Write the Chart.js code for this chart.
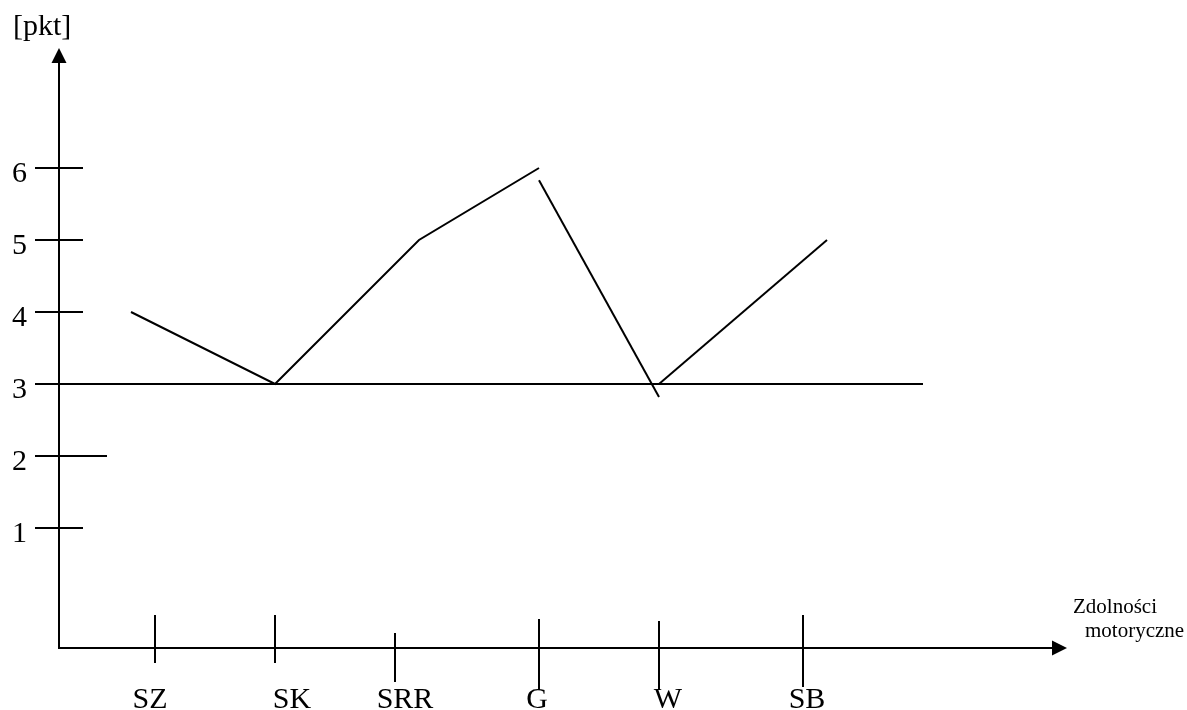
<!DOCTYPE html>
<html>
<head>
<meta charset="utf-8">
<script src="https://cdn.jsdelivr.net/npm/chart.js@4/dist/chart.umd.min.js"></script>
<style>
  html, body { margin: 0; padding: 0; background: #fff; }
  canvas { display: block; }
</style>
</head>
<body>
<canvas id="c" width="1187" height="710"></canvas>
<script>
// ---- data ----
const categories = ['SZ', 'SK', 'SRR', 'G', 'W', 'SB'];
const categoryPositions = [1, 2, 3, 4.2, 5.2, 6.4];
const yTickLabels = ['1', '2', '3', '4', '5', '6'];
const yTickValues = [1, 2, 3, 4, 5, 6];
const yAxisTitle = '[pkt]';
const xAxisTitle = ['Zdolności', 'motoryczne'];

const profileX = [0.8, 2, 3.2, 4.2];
const profileY = [4, 3, 5, 6];
const dropX = [4.2, 5.2];
const dropY = [5.83, 2.82];
const riseX = [5.2, 6.6];
const riseY = [3, 5];
const referenceX = [0, 7.4];
const referenceY = [3, 3];

const pts = (xs, ys) => xs.map((x, i) => ({ x: x, y: ys[i] }));
const SERIF = '"Liberation Serif", "DejaVu Serif", serif';

const lineDs = (xs, ys) => ({
  data: pts(xs, ys),
  borderColor: '#000',
  borderWidth: 2,
  pointRadius: 0,
  tension: 0,
  fill: false,
  clip: false
});

const axesPlugin = {
  id: 'handAxes',
  afterDraw(chart) {
    const ctx = chart.ctx;
    const xs = chart.scales.x, ys = chart.scales.y;
    const area = chart.chartArea;
    const axisX = xs.getPixelForValue(0.2);
    const axisY = area.bottom;
    ctx.save();
    ctx.strokeStyle = '#000';
    ctx.fillStyle = '#000';
    ctx.lineWidth = 2;
    ctx.lineCap = 'butt';

    // y axis
    ctx.beginPath();
    ctx.moveTo(axisX, axisY);
    ctx.lineTo(axisX, area.top + 14);
    ctx.stroke();
    ctx.beginPath();
    ctx.moveTo(axisX, area.top);
    ctx.lineTo(axisX - 7.5, area.top + 15);
    ctx.lineTo(axisX + 7.5, area.top + 15);
    ctx.closePath();
    ctx.fill();

    // x axis
    ctx.beginPath();
    ctx.moveTo(axisX - 1, axisY);
    ctx.lineTo(area.right - 14, axisY);
    ctx.stroke();
    ctx.beginPath();
    ctx.moveTo(area.right, axisY);
    ctx.lineTo(area.right - 15, axisY - 7.5);
    ctx.lineTo(area.right - 15, axisY + 7.5);
    ctx.closePath();
    ctx.fill();

    // y ticks + labels
    const yTickEnd = [0.4, 0.6, 0.4, 0.4, 0.4, 0.4];
    ctx.font = '30px ' + SERIF;
    ctx.textAlign = 'right';
    ctx.textBaseline = 'alphabetic';
    yTickValues.forEach((v, i) => {
      const py = ys.getPixelForValue(v);
      ctx.beginPath();
      ctx.moveTo(xs.getPixelForValue(0), py);
      ctx.lineTo(xs.getPixelForValue(yTickEnd[i]), py);
      ctx.stroke();
      ctx.fillText(yTickLabels[i], 27, py + 14);
    });

    // x ticks + labels (hand-drawn extents above/below axis, label offsets)
    const tickUp = [33, 33, 15, 29, 27, 33];
    const tickDown = [15, 15, 34, 42, 42, 39];
    const labelShift = [-5, 17, 10, -2, 9, 4];
    ctx.textAlign = 'center';
    categories.forEach((c, i) => {
      const px = xs.getPixelForValue(categoryPositions[i]);
      ctx.beginPath();
      ctx.moveTo(px, axisY - tickUp[i]);
      ctx.lineTo(px, axisY + tickDown[i]);
      ctx.stroke();
      ctx.fillText(c, px + labelShift[i], 708);
    });

    // axis titles
    ctx.textAlign = 'left';
    ctx.fillText(yAxisTitle, 13, 35);
    ctx.font = '21px ' + SERIF;
    ctx.fillText(xAxisTitle[0], 1073, 613);
    ctx.fillText(xAxisTitle[1], 1085, 637);
    ctx.restore();
  }
};

new Chart(document.getElementById('c'), {
  type: 'line',
  data: {
    datasets: [
      lineDs(profileX, profileY),
      lineDs(dropX, dropY),
      lineDs(riseX, riseY),
      lineDs(referenceX, referenceY)
    ]
  },
  options: {
    responsive: false,
    animation: false,
    devicePixelRatio: 1,
    layout: { padding: { left: 35, right: 120, top: 48, bottom: 62 } },
    scales: {
      x: { type: 'linear', min: 0, max: 8.6, display: false },
      y: { type: 'linear', min: -2 / 3, max: 23 / 3, display: false }
    },
    plugins: { legend: { display: false }, tooltip: { enabled: false } }
  },
  plugins: [axesPlugin]
});
</script>
</body>
</html>
